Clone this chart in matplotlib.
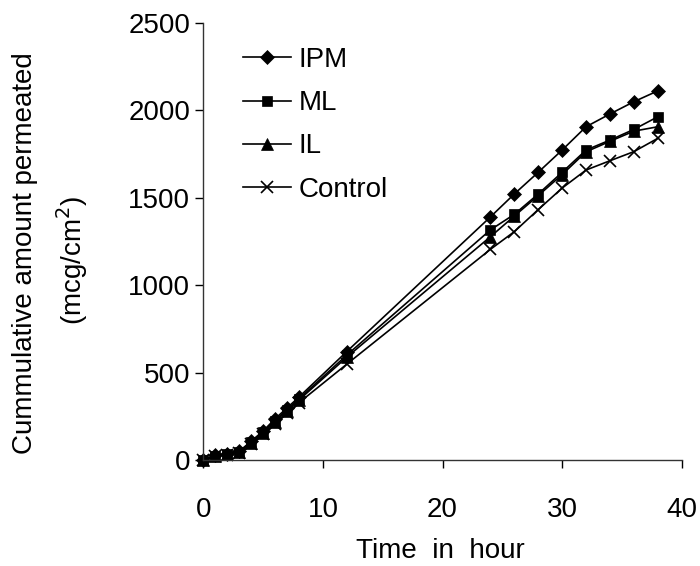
import matplotlib
matplotlib.use("Agg")
import matplotlib.pyplot as plt

plt.rcParams['font.family'] = ['Liberation Sans', 'DejaVu Sans']

time_h = [0, 1, 2, 3, 4, 5, 6, 7, 8, 12, 24, 26, 28, 30, 32, 34, 36, 38]
ipm = [0, 30, 38, 52, 110, 168, 238, 300, 362, 622, 1390, 1521, 1645, 1772, 1905, 1978, 2048, 2110]
ml = [0, 28, 36, 50, 105, 162, 228, 290, 352, 602, 1316, 1405, 1521, 1645, 1772, 1829, 1890, 1962]
il = [0, 27, 35, 48, 102, 158, 222, 283, 345, 590, 1277, 1395, 1512, 1632, 1762, 1822, 1880, 1905]
control = [0, 25, 33, 45, 95, 150, 210, 270, 330, 550, 1205, 1306, 1432, 1555, 1658, 1711, 1763, 1839]

series = [
    ("IPM", ipm, "D", 7),
    ("ML", ml, "s", 7.5),
    ("IL", il, "^", 8),
    ("Control", control, "x", 9),
]

FS = 20
W, H = 700, 566

fig = plt.figure(figsize=(7.0, 5.66), dpi=100)
ax = fig.add_axes([0.2904, 0.1864, 0.6835, 0.7738])

for name, vals, mk, ms in series:
    ax.plot(time_h, vals, color='black', lw=1.2, marker=mk, markersize=ms,
            markeredgewidth=1.2 if mk == 'x' else 0.5, markerfacecolor='black',
            markeredgecolor='black', label=name, clip_on=False)

ax.set_xlim(0, 40)
ax.set_ylim(0, 2500)
ax.set_xticks([0, 10, 20, 30, 40])
ax.set_yticks([0, 500, 1000, 1500, 2000, 2500])
for s in ['top', 'right']:
    ax.spines[s].set_visible(False)
for s in ['left', 'bottom']:
    ax.spines[s].set_linewidth(1.0)
    ax.spines[s].set_color('#333333')
ax.tick_params(axis='both', direction='out', length=6, width=1.0, labelsize=FS, colors='black')
ax.tick_params(axis='x', pad=20)
ax.tick_params(axis='y', pad=3.5)

fig.text(440 / W, 1 - 551 / H, "Time  in  hour", fontsize=FS, ha='center', va='center')
fig.text(25 / W, 1 - 253 / H, "Cummulative amount permeated", fontsize=FS,
         ha='center', va='center', rotation=90)
fig.text(72 / W, 1 - 260 / H, "(mcg/cm$^2$)", fontsize=FS,
         ha='center', va='center', rotation=90)

leg = ax.legend(loc='upper left', bbox_to_anchor=(0.082, 0.944), frameon=False, fontsize=FS,
                handlelength=1.73, handletextpad=0.3, labelspacing=0.62,
                borderpad=0, borderaxespad=0)

fig.savefig("out.png", dpi=100)
